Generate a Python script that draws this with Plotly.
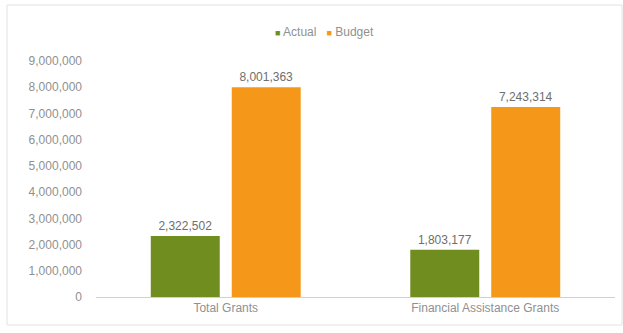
import plotly.graph_objects as go

categories = ["Total Grants", "Financial Assistance Grants"]
actual = [2322502, 1803177]
budget = [8001363, 7243314]
y_ticks = [0, 1000000, 2000000, 3000000, 4000000, 5000000, 6000000, 7000000, 8000000, 9000000]

FONT = "Liberation Sans, Arial, sans-serif"
GREEN = "#6F8E1F"
ORANGE = "#F5981A"
TEXT = "#909090"
LABEL = "#6E6E6E"
SIZE = 12

fig = go.Figure()
fig.add_trace(go.Bar(
    name="Actual", x=categories, y=actual, marker_color=GREEN,
    marker_line_width=0, showlegend=False,
    text=[f"{v:,}" for v in actual], textposition="outside",
    textfont=dict(color=LABEL, size=SIZE, family=FONT), cliponaxis=False,
))
fig.add_trace(go.Bar(
    name="Budget", x=categories, y=budget, marker_color=ORANGE,
    marker_line_width=0, showlegend=False,
    text=[f"{v:,}" for v in budget], textposition="outside",
    textfont=dict(color=LABEL, size=SIZE, family=FONT), cliponaxis=False,
))

# compact legend row above the plot
legend_text = (f"<span style='color:{GREEN};font-size:9px'>■</span> Actual&nbsp;&nbsp;&nbsp;"
               f"<span style='color:{ORANGE};font-size:9px'>■</span> Budget")

fig.update_layout(
    width=623, height=333,
    margin=dict(l=96, r=8, t=61, b=36),
    paper_bgcolor="white", plot_bgcolor="white",
    barmode="group", bargap=0.376, bargroupgap=0.148,
    font=dict(family=FONT, size=SIZE, color=TEXT),
    annotations=[dict(text=legend_text, xref="paper", yref="paper",
                      x=0.441, y=1.123, xanchor="center", yanchor="middle",
                      showarrow=False, font=dict(size=SIZE, color=TEXT, family=FONT))],
    xaxis=dict(showgrid=False, showline=True, linecolor="#D0D0D0", linewidth=1,
               ticks="", tickfont=dict(size=SIZE, color=TEXT, family=FONT)),
    yaxis=dict(range=[0, 9000000], tickvals=y_ticks,
               ticktext=[f"{v:,}" for v in y_ticks],
               showgrid=False, zeroline=False, showline=False,
               ticklabelstandoff=13,
               tickfont=dict(size=SIZE, color=TEXT, family=FONT)),
    shapes=[dict(type="rect", xref="paper", yref="paper",
                 x0=(7 - 96) / 519, x1=(622 - 96) / 519,
                 y0=(297 - 325) / 236, y1=(297 - 5) / 236,
                 line=dict(color="#E2E2E2", width=1), layer="below")],
)

fig.write_html("out.html")
